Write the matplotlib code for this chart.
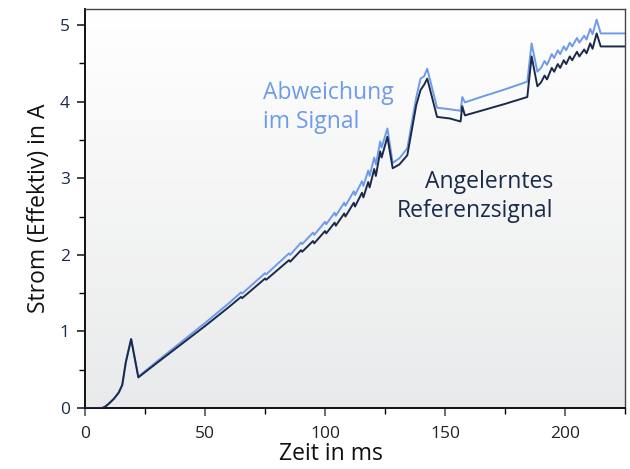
import numpy as np
import matplotlib
matplotlib.use("Agg")
import matplotlib.pyplot as plt
from matplotlib.ticker import MultipleLocator

plt.rcParams['font.family'] = ['Open Sans', 'DejaVu Sans']

# Time axis (ms)
t_ref = [0, 7, 8.5, 10, 12, 14, 15.5, 17, 19.2, 22.2,
         30, 40, 50, 60, 65, 65.5, 75, 75.5, 85, 85.5, 90, 90.5, 95, 95.5,
         100, 100.5, 104, 104.5, 108, 108.5, 112, 112.5, 115.4, 116, 118, 118.6,
         120.5, 121.2, 123, 123.6, 126, 128.2, 131, 134.3, 138, 139.8, 141.3, 142.6,
         146.7, 152, 156.5, 157.2, 158.3, 165, 175, 184.3, 186.1, 188.5,
         190, 191.5, 192.5, 194.5, 195.5, 197, 198, 199.5, 200.5, 202, 203,
         205, 206, 208, 209, 210.5, 211.5, 213.2, 214.9, 225]

# Angelerntes Referenzsignal (A)
i_ref = [0, 0, 0.02, 0.06, 0.12, 0.2, 0.3, 0.6, 0.9, 0.40,
         0.59, 0.83, 1.07, 1.32, 1.45, 1.435, 1.69, 1.675, 1.93, 1.91, 2.06, 2.04, 2.18, 2.15,
         2.31, 2.28, 2.42, 2.38, 2.54, 2.50, 2.68, 2.63, 2.81, 2.75, 2.95, 2.88,
         3.12, 3.03, 3.35, 3.27, 3.54, 3.13, 3.18, 3.30, 3.95, 4.15, 4.22, 4.30,
         3.80, 3.78, 3.74, 3.94, 3.82, 3.88, 3.97, 4.06, 4.59, 4.20,
         4.25, 4.34, 4.29, 4.44, 4.39, 4.49, 4.44, 4.54, 4.49, 4.59, 4.54,
         4.65, 4.59, 4.68, 4.63, 4.76, 4.69, 4.89, 4.72, 4.72]

# Abweichung im Signal (A)
i_dev = [0, 0, 0.02, 0.06, 0.12, 0.2, 0.3, 0.6, 0.9, 0.41,
         0.61, 0.86, 1.11, 1.37, 1.51, 1.495, 1.76, 1.745, 2.02, 2.00, 2.16, 2.14, 2.29, 2.26,
         2.43, 2.40, 2.55, 2.51, 2.68, 2.64, 2.83, 2.78, 2.96, 2.90, 3.10, 3.03,
         3.27, 3.18, 3.48, 3.40, 3.65, 3.20, 3.26, 3.39, 4.05, 4.30, 4.33, 4.43,
         3.92, 3.90, 3.88, 4.06, 3.99, 4.06, 4.16, 4.26, 4.76, 4.39,
         4.44, 4.53, 4.48, 4.62, 4.57, 4.67, 4.62, 4.72, 4.67, 4.77, 4.72,
         4.83, 4.77, 4.86, 4.81, 4.95, 4.88, 5.07, 4.89, 4.89]

x_ticks = [0, 50, 100, 150, 200]
y_ticks = [0, 1, 2, 3, 4, 5]

dark = '#1b2a4b'
light = '#6e9be9'

fig = plt.figure(figsize=(6.3, 4.69), dpi=100)
ax = fig.add_axes([0.135, 0.130, 0.857, 0.851])

# gradient background
grad = np.linspace(1, 0, 256).reshape(-1, 1)
top = np.array([1.0, 1.0, 1.0])
bot = np.array([0.914, 0.918, 0.922])
img = bot + (top - bot) * grad[..., None]
ax.imshow(img, extent=[0, 1, 0, 1], transform=ax.transAxes, aspect='auto', zorder=0)

ax.plot(t_ref, i_dev, color=light, lw=1.4, zorder=2)
ax.plot(t_ref, i_ref, color=dark, lw=1.4, zorder=3)

ax.set_xlim(0, 225)
ax.set_ylim(0, 5.21)
ax.set_xticks(x_ticks)
ax.set_yticks(y_ticks)
ax.xaxis.set_minor_locator(MultipleLocator(25))
ax.yaxis.set_minor_locator(MultipleLocator(0.5))
ax.tick_params(which='major', direction='out', length=6, width=1.2, labelsize=12.5)
ax.tick_params(which='minor', direction='out', length=4, width=1.0)
ax.tick_params(axis='x', colors='#555555', labelcolor='#222222', pad=7)
ax.tick_params(axis='y', colors='#222222', labelcolor='#1b2a4b', pad=5)

for s in ['left', 'bottom']:
    ax.spines[s].set_color('#111111')
    ax.spines[s].set_linewidth(1.4)
for s in ['top', 'right']:
    ax.spines[s].set_color('#444444')
    ax.spines[s].set_linewidth(1.0)

ax.set_xlabel('Zeit in ms', fontsize=16.5, color='#111111', labelpad=0)
ax.xaxis.set_label_coords(0.455, -0.085)
ax.set_ylabel('Strom (Effektiv) in A', fontsize=16.5, color='#111111', labelpad=6)

ax.text(74, 3.92, 'Abweichung\nim Signal', color=light, fontsize=16.5,
        ha='left', va='center', linespacing=1.3, zorder=4)
ax.text(195, 2.76, 'Angelerntes\nReferenzsignal', color=dark, fontsize=16.5,
        ha='right', va='center', linespacing=1.3, zorder=4)

fig.savefig('out.png', dpi=100)
